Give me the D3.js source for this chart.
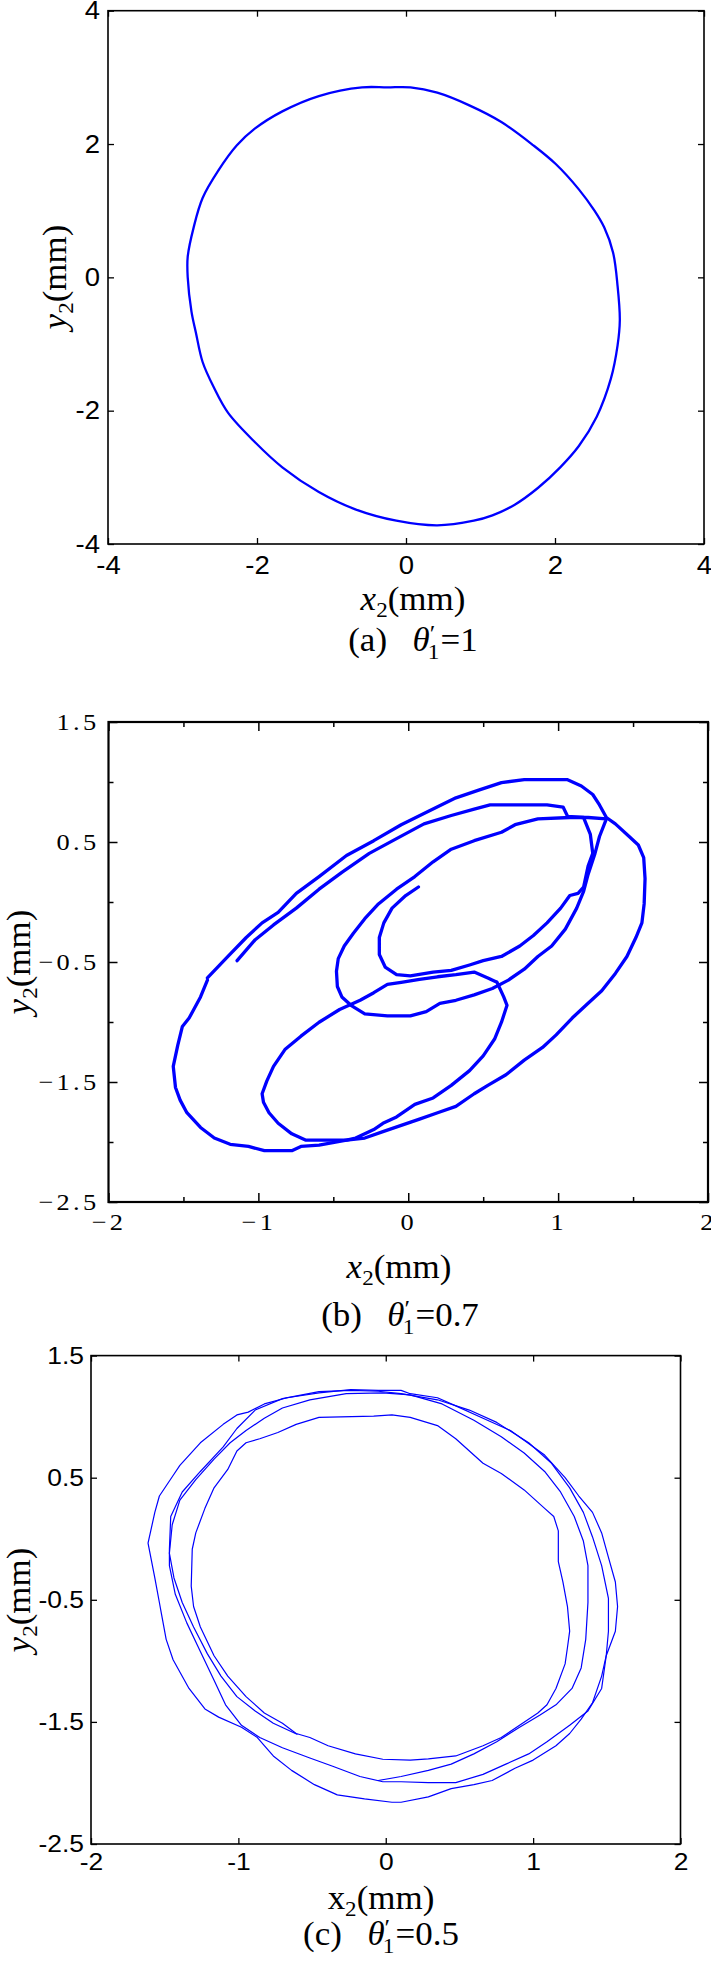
<!DOCTYPE html>
<html><head><meta charset="utf-8">
<script src="https://cdn.jsdelivr.net/npm/d3@7"></script>
<style>body{margin:0;background:#fff}svg{display:block}</style>
</head><body>
<svg id="chart" width="711" height="1962"></svg>
<script>
// ---------- DATA ----------
const aTicks = [-4, -2, 0, 2, 4];
const aOrbit = [[-0.59,2.85],[-0.25,2.85],[0.06,2.85],[0.42,2.77],[0.85,2.58],[1.28,2.33],[1.71,1.98],[2.01,1.70],[2.32,1.32],[2.53,1.00],[2.66,0.75],[2.78,0.37],[2.84,-0.13],[2.87,-0.64],[2.84,-1.02],[2.75,-1.52],[2.56,-2.09],[2.32,-2.53],[2.07,-2.85],[1.77,-3.16],[1.46,-3.41],[1.16,-3.57],[0.91,-3.65],[0.42,-3.72],[-0.13,-3.65],[-0.68,-3.48],[-1.17,-3.22],[-1.66,-2.85],[-2.03,-2.47],[-2.39,-2.03],[-2.58,-1.65],[-2.73,-1.27],[-2.82,-0.83],[-2.88,-0.51],[-2.93,0.0],[-2.93,0.31],[-2.85,0.75],[-2.73,1.19],[-2.52,1.60],[-2.27,1.98],[-2.03,2.23],[-1.66,2.49],[-1.17,2.72]];

const bXTicks = [-2, -1, 0, 1, 2];
const bXMinor = [-1.5, -0.5, 0.5, 1.5];
const bYTicks = [1.5, 0.5, -0.5, -1.5, -2.5];
const bYMinor = [1, 0, -1, -2];
const bOuter = [[-1.340,-0.633],[-1.203,-0.454],[-1.081,-0.296],[-0.975,-0.174],[-0.868,-0.086],[-0.747,0.072],[-0.595,0.212],[-0.412,0.388],[-0.230,0.511],[-0.047,0.644],[0.135,0.756],[0.318,0.868],[0.470,0.932],[0.622,0.995],[0.774,1.019],[1.063,1.019],[1.155,0.967],[1.231,0.896],[1.276,0.809],[1.322,0.704],[1.382,0.651],[1.474,0.546],[1.535,0.475],[1.571,0.370],[1.580,0.195],[1.574,-0.016],[1.559,-0.174],[1.519,-0.296],[1.459,-0.454],[1.382,-0.595],[1.291,-0.739],[1.200,-0.844],[1.094,-0.967],[0.987,-1.107],[0.896,-1.212],[0.774,-1.318],[0.652,-1.440],[0.531,-1.528],[0.440,-1.598],[0.318,-1.703],[0.196,-1.756],[0.075,-1.809],[-0.047,-1.861],[-0.169,-1.914],[-0.290,-1.967],[-0.412,-1.984],[-0.595,-2.026],[-0.716,-2.037],[-0.777,-2.072],[-0.960,-2.072],[-1.066,-2.037],[-1.188,-2.019],[-1.294,-1.967],[-1.386,-1.879],[-1.477,-1.756],[-1.522,-1.651],[-1.553,-1.546],[-1.568,-1.370],[-1.538,-1.195],[-1.507,-1.037],[-1.462,-0.967],[-1.386,-0.791],[-1.340,-0.651]];
const bSpiral = [[-1.142,-0.489],[-1.021,-0.314],[-0.899,-0.191],[-0.747,-0.051],[-0.595,0.107],[-0.443,0.247],[-0.260,0.405],[-0.078,0.528],[0.105,0.651],[0.287,0.721],[0.440,0.774],[0.546,0.809],[0.926,0.809],[1.033,0.791],[1.063,0.714],[1.170,0.704],[1.215,0.563],[1.231,0.405],[1.200,0.300],[1.170,0.125],[1.133,0.072],[1.078,0.054],[1.017,-0.051],[0.926,-0.174],[0.835,-0.279],[0.744,-0.367],[0.622,-0.454],[0.500,-0.489],[0.409,-0.525],[0.287,-0.570],[0.166,-0.584],[0.014,-0.616],[-0.078,-0.606],[-0.154,-0.542],[-0.193,-0.437],[-0.193,-0.296],[-0.163,-0.174],[-0.108,-0.051],[-0.017,0.054],[0.068,0.125]];
const bMiddle = [[1.322,0.693],[1.200,0.704],[1.078,0.704],[0.865,0.693],[0.713,0.644],[0.622,0.581],[0.440,0.511],[0.287,0.440],[0.166,0.335],[0.044,0.212],[-0.078,0.107],[-0.199,-0.016],[-0.290,-0.139],[-0.366,-0.261],[-0.427,-0.367],[-0.467,-0.472],[-0.479,-0.577],[-0.473,-0.704],[-0.443,-0.791],[-0.382,-0.861],[-0.290,-0.932],[-0.139,-0.949],[0.014,-0.949],[0.120,-0.914],[0.211,-0.844],[0.318,-0.819],[0.440,-0.774],[0.561,-0.721],[0.668,-0.651],[0.774,-0.560],[0.865,-0.454],[0.957,-0.367],[1.048,-0.226],[1.124,-0.051],[1.170,0.089],[1.200,0.230],[1.246,0.405],[1.276,0.546],[1.322,0.693]];
const bLower = [[0.592,-0.669],[0.637,-0.791],[0.659,-0.861],[0.622,-1.002],[0.576,-1.142],[0.500,-1.282],[0.409,-1.405],[0.287,-1.528],[0.166,-1.633],[0.044,-1.686],[-0.078,-1.791],[-0.169,-1.844],[-0.230,-1.896],[-0.290,-1.932],[-0.351,-1.967],[-0.412,-1.984],[-0.686,-1.984],[-0.777,-1.932],[-0.868,-1.844],[-0.929,-1.756],[-0.966,-1.668],[-0.975,-1.598],[-0.944,-1.493],[-0.899,-1.370],[-0.823,-1.230],[-0.716,-1.118],[-0.595,-1.002],[-0.458,-0.896],[-0.321,-0.819],[-0.230,-0.756],[-0.139,-0.686],[-0.047,-0.669],[0.075,-0.644],[0.196,-0.623],[0.318,-0.606],[0.440,-0.584],[0.531,-0.633],[0.592,-0.669]];

const cXTicks = [-2, -1, 0, 1, 2];
const cYTicks = [1.5, 0.5, -0.5, -1.5, -2.5];
const cLoop1 = [[-1.613,-0.036],[-1.567,0.216],[-1.536,0.350],[-1.443,0.518],[-1.397,0.601],[-1.258,0.786],[-1.103,0.937],[-1.010,1.014],[-0.933,1.037],[-0.824,1.104],[-0.670,1.155],[-0.453,1.195],[-0.237,1.222],[-0.051,1.215],[0.104,1.215],[0.166,1.188],[0.351,1.155],[0.475,1.088],[0.660,0.987],[0.846,0.886],[1.078,0.685],[1.217,0.501],[1.310,0.350],[1.403,0.216],[1.465,0.048],[1.511,-0.153],[1.558,-0.354],[1.573,-0.555],[1.558,-0.757],[1.496,-0.958],[1.465,-1.125],[1.403,-1.343],[1.326,-1.477],[1.248,-1.595],[1.155,-1.695],[1.000,-1.813],[0.877,-1.880],[0.722,-1.980],[0.598,-2.014],[0.444,-2.047],[0.289,-2.114],[0.104,-2.158],[0.042,-2.158],[-0.144,-2.131],[-0.329,-2.098],[-0.484,-2.014],[-0.639,-1.897],[-0.763,-1.779],[-0.824,-1.695],[-0.871,-1.628],[-0.979,-1.544],[-1.134,-1.461],[-1.227,-1.394],[-1.335,-1.226],[-1.443,-0.991],[-1.490,-0.824],[-1.521,-0.622],[-1.536,-0.522],[-1.567,-0.321],[-1.613,-0.036]];
const cLoop2 = [[-1.468,-0.086],[-1.459,0.182],[-1.381,0.383],[-1.258,0.551],[-1.103,0.752],[-1.010,0.903],[-0.886,1.054],[-0.701,1.148],[-0.453,1.205],[-0.237,1.215],[-0.051,1.208],[0.104,1.188],[0.351,1.138],[0.567,1.054],[0.753,0.953],[0.970,0.786],[1.125,0.618],[1.248,0.417],[1.341,0.216],[1.403,0.015],[1.465,-0.220],[1.511,-0.488],[1.511,-0.757],[1.496,-0.958],[1.465,-1.226],[1.372,-1.410],[1.248,-1.528],[1.094,-1.662],[0.970,-1.762],[0.815,-1.846],[0.660,-1.930],[0.475,-1.997],[0.289,-1.997],[0.104,-1.990],[-0.020,-1.990],[-0.175,-1.947],[-0.360,-1.863],[-0.515,-1.796],[-0.701,-1.712],[-0.855,-1.628],[-0.979,-1.528],[-1.087,-1.360],[-1.165,-1.159],[-1.258,-0.924],[-1.350,-0.689],[-1.428,-0.455],[-1.468,-0.220],[-1.468,-0.086]];
const cLoop3 = [[-0.453,0.994],[-0.082,1.004],[0.042,1.014],[0.166,0.994],[0.351,0.927],[0.475,0.819],[0.660,0.618],[0.784,0.534],[0.939,0.400],[1.078,0.249],[1.140,0.182],[1.171,0.065],[1.171,-0.187],[1.202,-0.354],[1.233,-0.555],[1.248,-0.757],[1.233,-0.891],[1.217,-1.025],[1.155,-1.226],[1.094,-1.360],[1.032,-1.427],[0.908,-1.528],[0.784,-1.628],[0.660,-1.695],[0.475,-1.779],[0.289,-1.803],[0.166,-1.813],[-0.020,-1.806],[-0.206,-1.762],[-0.391,-1.695],[-0.515,-1.628],[-0.608,-1.595],[-0.701,-1.511],[-0.824,-1.427],[-0.948,-1.293],[-1.072,-1.125],[-1.165,-0.958],[-1.258,-0.723],[-1.304,-0.555],[-1.320,-0.388],[-1.313,-0.086],[-1.289,0.048],[-1.227,0.249],[-1.165,0.417],[-1.072,0.568],[-1.010,0.719],[-0.948,0.786],[-0.855,0.819],[-0.732,0.870],[-0.608,0.937],[-0.453,0.994]];
const cLoop4 = [[-0.602,-1.601],[-0.763,-1.511],[-0.886,-1.410],[-1.010,-1.293],[-1.118,-1.125],[-1.211,-0.941],[-1.304,-0.723],[-1.381,-0.522],[-1.437,-0.321],[-1.468,-0.119],[-1.449,0.115],[-1.397,0.316],[-1.289,0.484],[-1.165,0.652],[-1.056,0.786],[-0.948,0.886],[-0.824,0.987],[-0.701,1.071],[-0.515,1.138],[-0.268,1.188],[-0.020,1.195],[0.166,1.178],[0.382,1.104],[0.598,0.970],[0.784,0.836],[0.939,0.702],[1.078,0.551],[1.186,0.383],[1.279,0.182],[1.341,-0.019],[1.372,-0.220],[1.372,-0.522],[1.357,-0.824],[1.326,-1.058],[1.264,-1.226],[1.155,-1.360],[1.047,-1.444],[0.908,-1.544],[0.753,-1.662],[0.598,-1.762],[0.444,-1.846],[0.289,-1.897],[0.104,-1.947],[-0.051,-1.980]];

// ---------- DRAW ----------
const svg = d3.select('#chart');
const BLUE = '#0000ff';
const SANS = 'Liberation Sans, Arial, sans-serif';
const SERIF = 'Liberation Serif, Times New Roman, serif';
const SX_TICK = 1.1;   // horizontal stretch of the source image's tick lettering
const SX_LABEL = 1.06; // and of its axis titles / captions

function stretch(sel, sx) {
  sel.each(function () {
    const t = d3.select(this);
    const x0 = +t.attr('x') || 0;
    t.attr('transform', `translate(${x0},0) scale(${sx},1)`).attr('x', 0);
  });
}

function mathLabel(cx, base, rotate, letter, italic, size) {
  const g = svg.append('g').attr('transform',
    rotate ? `translate(${cx},${base}) rotate(-90) scale(${SX_LABEL},1)` : `translate(${cx},${base}) scale(${SX_LABEL},1)`);
  const t = g.append('text').attr('text-anchor', 'middle').attr('font-family', SERIF).attr('font-size', size);
  t.append('tspan').attr('font-style', italic ? 'italic' : 'normal').text(letter);
  t.append('tspan').attr('font-size', size * 0.66).attr('dy', size * 0.2).text('2');
  t.append('tspan').attr('dy', -size * 0.2).text('(mm)');
}

function caption(cx, base, tag, val) {
  const g = svg.append('g').attr('transform', `translate(${cx},${base}) scale(${SX_LABEL},1)`);
  const t = g.append('text').attr('text-anchor', 'middle').attr('font-family', SERIF).attr('font-size', 33);
  t.append('tspan').text(tag);
  t.append('tspan').attr('dx', 24).attr('font-style', 'italic').text('θ');
  t.append('tspan').attr('font-size', 24).attr('dy', -10).text('′');
  t.append('tspan').attr('font-size', 22).attr('dx', -7).attr('dy', 18).text('1');
  t.append('tspan').attr('dx', 1).attr('dy', -8).text('=' + val);
}

function drawPanel(cfg) {
  const x = d3.scaleLinear().domain(cfg.xDomain).range([cfg.left, cfg.right]);
  const y = d3.scaleLinear().domain(cfg.yDomain).range([cfg.bottom, cfg.top]);
  const g = svg.append('g');

  const styleAxis = sel => {
    sel.select('.domain').remove();
    sel.selectAll('line').attr('stroke', '#000').attr('stroke-width', cfg.tickW);
    sel.selectAll('text').attr('fill', '#000').attr('font-family', cfg.tickFont)
       .attr('font-size', cfg.tickSize).attr('letter-spacing', cfg.letterSpacing || 0)
       .call(stretch, SX_TICK);
  };
  const addAxis = (axisFn, scale, vals, size, transform, fmt, pad) => {
    const a = axisFn(scale).tickValues(vals).tickSizeInner(-size).tickSizeOuter(0)
      .tickPadding(pad || 0).tickFormat(fmt || (() => ''));
    g.append('g').attr('transform', transform).call(a).call(styleAxis);
  };
  addAxis(d3.axisBottom, x, cfg.xTicks, cfg.tick, `translate(0,${cfg.bottom})`, cfg.fmt, cfg.xPad);
  addAxis(d3.axisLeft, y, cfg.yTicks, cfg.tick, `translate(${cfg.left},0)`, cfg.fmt, cfg.yPad);
  addAxis(d3.axisTop, x, cfg.xTicks, cfg.tick, `translate(0,${cfg.top})`);
  addAxis(d3.axisRight, y, cfg.yTicks, cfg.tick, `translate(${cfg.right},0)`);
  if (cfg.xMinor) {
    addAxis(d3.axisBottom, x, cfg.xMinor, cfg.minorTick, `translate(0,${cfg.bottom})`);
    addAxis(d3.axisTop, x, cfg.xMinor, cfg.minorTick, `translate(0,${cfg.top})`);
    addAxis(d3.axisLeft, y, cfg.yMinor, cfg.minorTick, `translate(${cfg.left},0)`);
    addAxis(d3.axisRight, y, cfg.yMinor, cfg.minorTick, `translate(${cfg.right},0)`);
  }
  cfg.series.forEach(s => {
    g.append('path').datum(s.data)
      .attr('d', d3.line().x(d => x(d[0])).y(d => y(d[1])).curve(s.curve || d3.curveLinear))
      .attr('fill', 'none').attr('stroke', BLUE).attr('stroke-width', cfg.lineW)
      .attr('stroke-linejoin', 'round').attr('stroke-linecap', 'round');
  });
  g.append('rect').attr('x', cfg.left).attr('y', cfg.top)
    .attr('width', cfg.right - cfg.left).attr('height', cfg.bottom - cfg.top)
    .attr('fill', 'none').attr('stroke', '#000').attr('stroke-width', cfg.frameW);

  mathLabel(cfg.xLabel.cx, cfg.xLabel.base, false, 'x', cfg.xItalic, 33);
  mathLabel(cfg.yLabel.base, cfg.yLabel.cy, true, 'y', true, 33);
  caption(cfg.caption.cx, cfg.caption.base, cfg.caption.tag, cfg.caption.val);
}

const fmtSans = d => d3.format('')(d).replace('−', '-');
const fmtSerif = d => d3.format('.1~f')(d);

drawPanel({
  xDomain: [-4, 4], yDomain: [-4, 4], left: 108, right: 704, top: 10.7, bottom: 544,
  xTicks: aTicks, yTicks: aTicks, tick: 6, tickW: 1.3, frameW: 1.6, lineW: 2.3,
  fmt: fmtSans, tickFont: SANS, tickSize: 25, xPad: 12, yPad: 8,
  series: [{ data: aOrbit, curve: d3.curveCatmullRomClosed }],
  xItalic: true, xLabel: { cx: 413, base: 610 }, yLabel: { base: 66, cy: 277 },
  caption: { cx: 413, base: 651, tag: '(a)', val: '1' }
});

drawPanel({
  xDomain: [-2, 2], yDomain: [-2.5, 1.5], left: 108.5, right: 708, top: 722, bottom: 1202,
  xTicks: bXTicks, yTicks: bYTicks, xMinor: bXMinor, yMinor: bYMinor,
  tick: 9, minorTick: 5, tickW: 1.5, frameW: 2.2, lineW: 3.3,
  fmt: fmtSerif, tickFont: SERIF, tickSize: 24, letterSpacing: 3, xPad: 11, yPad: 9,
  series: [{ data: bOuter }, { data: bSpiral }, { data: bMiddle }, { data: bLower }],
  xItalic: true, xLabel: { cx: 399, base: 1278 }, yLabel: { base: 30, cy: 962 },
  caption: { cx: 400, base: 1326, tag: '(b)', val: '0.7' }
});

drawPanel({
  xDomain: [-2, 2], yDomain: [-2.5, 1.5], left: 91, right: 680.5, top: 1355.6, bottom: 1844,
  xTicks: cXTicks, yTicks: cYTicks, tick: 6, tickW: 1.3, frameW: 1.6, lineW: 1.2,
  fmt: fmtSans, tickFont: SANS, tickSize: 24, xPad: 9, yPad: 7,
  series: [{ data: cLoop1 }, { data: cLoop2 }, { data: cLoop3 }, { data: cLoop4 }],
  xItalic: false, xLabel: { cx: 381, base: 1909 }, yLabel: { base: 30, cy: 1600 },
  caption: { cx: 381, base: 1945, tag: '(c)', val: '0.5' }
});
</script>
</body></html>
